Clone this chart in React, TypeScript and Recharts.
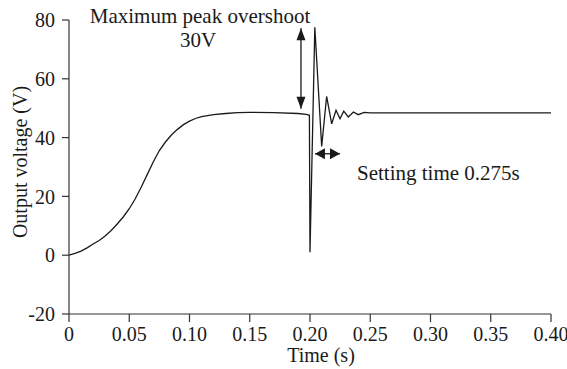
import React from 'react';
import { LineChart, Line, XAxis, YAxis, ReferenceLine } from 'recharts';

const times = [
  0, 0.005, 0.01, 0.015, 0.02, 0.025, 0.03, 0.035, 0.04, 0.045, 0.05, 0.055, 0.06,
  0.065, 0.07, 0.075, 0.08, 0.085, 0.09, 0.095, 0.1, 0.105, 0.11, 0.115, 0.12,
  0.13, 0.14, 0.15, 0.17, 0.19, 0.197, 0.1995, 0.2, 0.204,
  0.2097, 0.2138, 0.218, 0.2216, 0.2249, 0.228, 0.2318, 0.236, 0.24, 0.245, 0.25, 0.4,
];
const volts = [
  0, 0.6, 1.4, 2.5, 3.8, 5.0, 6.5, 8.4, 10.6, 13.0, 15.8, 19.2, 23.2,
  27.5, 31.8, 35.6, 38.5, 40.9, 42.8, 44.4, 45.6, 46.5, 47.1, 47.5, 47.8,
  48.2, 48.5, 48.6, 48.5, 48.2, 47.9, 47.6, 1, 77.5,
  37, 54, 44.7, 49.3, 46.4, 49, 47, 48.7, 47.8, 48.6, 48.4, 48.4,
];
const xTicks = [0, 0.05, 0.1, 0.15, 0.2, 0.25, 0.3, 0.35, 0.4];
const yTicks = [-20, 0, 20, 40, 60, 80];

const overshootArrow = [{ x: 0.1925, y: 77.2 }, { x: 0.1925, y: 49.8 }];
const settleArrow = [{ x: 0.2041, y: 34.5 }, { x: 0.2249, y: 34.5 }];

const data = times.map((t, i) => ({ t, v: volts[i] }));

const FONT = '"Liberation Serif", "Times New Roman", serif';
const AXIS = '#333';
const INK = '#1a1a1a';

const DoubleArrow = (props: any) => {
  const { x1, y1, x2, y2, headLen = 12, headHalf = 4.5 } = props;
  const dx = x2 - x1;
  const dy = y2 - y1;
  const len = Math.sqrt(dx * dx + dy * dy) || 1;
  const ux = dx / len;
  const uy = dy / len;
  const px = -uy;
  const py = ux;
  const head = (tx: number, ty: number, dirx: number, diry: number) => {
    const bx = tx - dirx * headLen;
    const by = ty - diry * headLen;
    return `${tx},${ty} ${bx + px * headHalf},${by + py * headHalf} ${bx - px * headHalf},${by - py * headHalf}`;
  };
  return (
    <g>
      <line x1={x1} y1={y1} x2={x2} y2={y2} stroke={INK} strokeWidth={1.3} />
      <polygon points={head(x2, y2, ux, uy)} fill={INK} />
      <polygon points={head(x1, y1, -ux, -uy)} fill={INK} />
    </g>
  );
};

export default function App() {
  return (
    <div
      style={{
        position: 'absolute',
        left: 0,
        top: 0,
        width: 567,
        height: 369,
        background: '#fff',
        fontFamily: FONT,
      }}
    >
      <LineChart
        width={567}
        height={369}
        data={data}
        margin={{ top: 20, right: 16, bottom: 25, left: 9 }}
        style={{ fontFamily: FONT }}
      >
        <XAxis
          dataKey="t"
          type="number"
          domain={[0, 0.4]}
          ticks={xTicks}
          interval={0}
          tickFormatter={(v: number) => (v === 0 ? '0' : v.toFixed(2))}
          tickSize={8}
          tickMargin={5}
          height={30}
          axisLine={{ stroke: AXIS, strokeWidth: 1.2 }}
          tickLine={{ stroke: AXIS, strokeWidth: 1.2 }}
          tick={{ fontSize: 20, fill: INK, fontFamily: FONT }}
        />
        <YAxis
          domain={[-20, 80]}
          ticks={yTicks}
          interval={0}
          tickSize={7}
          tickMargin={7}
          width={60}
          axisLine={{ stroke: AXIS, strokeWidth: 1.2 }}
          tickLine={{ stroke: AXIS, strokeWidth: 1.2 }}
          tick={{ fontSize: 20, fill: INK, fontFamily: FONT }}
        />
        <Line
          type="linear"
          dataKey="v"
          stroke={INK}
          strokeWidth={1.3}
          dot={false}
          activeDot={false}
          isAnimationActive={false}
        />
        <ReferenceLine
          segment={overshootArrow}
          shape={(p: any) => <DoubleArrow {...p} headLen={12} headHalf={4.5} />}
        />
        <ReferenceLine
          segment={settleArrow}
          shape={(p: any) => <DoubleArrow {...p} headLen={10} headHalf={5.5} />}
        />
      </LineChart>
      <svg
        width={567}
        height={369}
        style={{ position: 'absolute', left: 0, top: 0, pointerEvents: 'none' }}
      >
        <g fontFamily={FONT} fill={INK}>
          <text x={200} y={23} fontSize={21} textAnchor="middle">Maximum peak overshoot</text>
          <text x={198} y={46.5} fontSize={21} textAnchor="middle">30V</text>
          <text x={357} y={180} fontSize={21}>Setting time 0.275s</text>
          <text x={321} y={362} fontSize={20} textAnchor="middle">Time (s)</text>
          <text x={27} y={162} fontSize={20} textAnchor="middle" transform="rotate(-90, 27, 162)">Output voltage (V)</text>
        </g>
      </svg>
    </div>
  );
}
